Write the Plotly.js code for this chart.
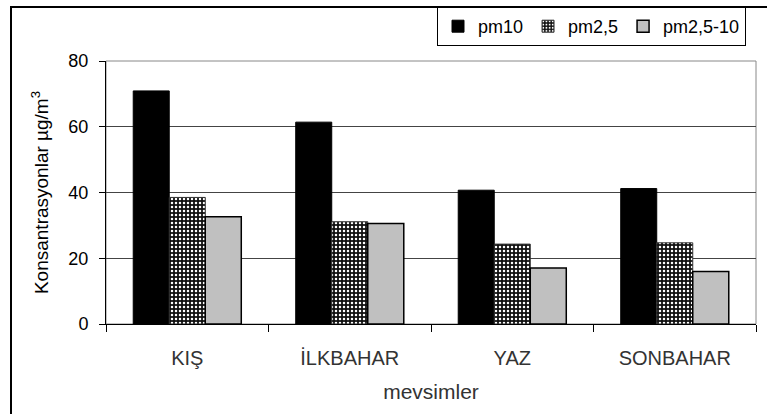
<!DOCTYPE html>
<html>
<head>
<meta charset="utf-8">
<script src="https://cdn.plot.ly/plotly-3.0.1.min.js"></script>
<style>
  html, body { margin: 0; padding: 0; background: #fff; }
  #chart { width: 767px; height: 414px; }
</style>
</head>
<body>
<div id="chart"></div>
<script>
// Seasons and mean particulate concentrations (µg/m³)
const seasons = ["KIŞ", "İLKBAHAR", "YAZ", "SONBAHAR"];
const pm10 = [70.9, 61.4, 40.7, 41.2];
const pm25 = [38.5, 31.1, 24.3, 24.7];
const pm25_10 = [32.6, 30.6, 17.0, 16.0];

const yTicks = [0, 20, 40, 60, 80];

const sans = "Liberation Sans, Arial, sans-serif";

// plot area in pixels: x 106..756, y 61..324
const L = 106, R = 11, T = 61, B = 90, W = 767, H = 414;
const pw = W - L - R, ph = H - T - B;
const px = v => (v - L) / pw;
const py = v => (H - B - v) / ph;

const traces = [
  {
    type: "bar", name: "pm10", x: seasons, y: pm10,
    marker: { color: "#000000", line: { color: "#000000", width: 1 } }
  },
  {
    type: "bar", name: "pm2,5", x: seasons, y: pm25,
    marker: {
      color: "#111111",
      line: { color: "#333333", width: 1 },
      pattern: { shape: ".", fgcolor: "#ffffff", bgcolor: "#111111", size: 4, solidity: 0.3, fillmode: "replace" }
    }
  },
  {
    type: "bar", name: "pm2,5-10", x: seasons, y: pm25_10,
    marker: { color: "#c0c0c0", line: { color: "#000000", width: 1.5 } }
  }
];

const layout = {
  width: W, height: H,
  margin: { l: L, r: R, t: T, b: B, pad: 0, autoexpand: false },
  paper_bgcolor: "#ffffff",
  plot_bgcolor: "#ffffff",
  barmode: "group",
  bargap: 0.335,
  bargroupgap: 0,
  showlegend: true,
  legend: {
    orientation: "h",
    x: px(746), xanchor: "right",
    y: py(7), yanchor: "top",
    bordercolor: "#000000", borderwidth: 1,
    bgcolor: "#ffffff",
    font: { family: sans, size: 18, color: "#000000" },
    traceorder: "normal",
    itemwidth: 30
  },
  xaxis: {
    type: "category",
    showline: true, linecolor: "#000000", linewidth: 1,
    ticks: "outside", tickson: "boundaries", ticklen: 7, tickcolor: "#000000",
    showgrid: false,
    tickfont: { family: sans, size: 20, color: "#333333" },
    ticklabelstandoff: 16,
    title: { text: "mevsimler", font: { family: sans, size: 21, color: "#333333" }, standoff: 16 }
  },
  yaxis: {
    range: [0, 80],
    tickvals: yTicks,
    ticktext: yTicks.map(String),
    showline: true, linecolor: "#000000", linewidth: 1,
    ticks: "outside", ticklen: 6, tickcolor: "#000000",
    showgrid: true, gridcolor: "#444444", gridwidth: 1,
    zeroline: false,
    tickfont: { family: sans, size: 18, color: "#000000" },
    ticklabelstandoff: 7,
    title: {
      text: "Konsantrasyonlar µg/m<sup>3</sup>",
      font: { family: sans, size: 19, color: "#000000" },
      standoff: 14
    }
  },
  shapes: [
    // plot-area border (grey, right/top)
    { type: "rect", xref: "paper", yref: "paper", x0: 0, x1: 1, y0: 0, y1: 1,
      line: { color: "#888888", width: 1 }, layer: "below" },
    // chart frame, left and top edges
    { type: "path", xref: "paper", yref: "paper",
      path: `M ${px(11)} ${py(H)} L ${px(11)} ${py(7)} L ${px(W)} ${py(7)}`,
      line: { color: "#000000", width: 2 } }
  ]
};

Plotly.newPlot("chart", traces, layout, { displayModeBar: false, staticPlot: true });
</script>
</body>
</html>
